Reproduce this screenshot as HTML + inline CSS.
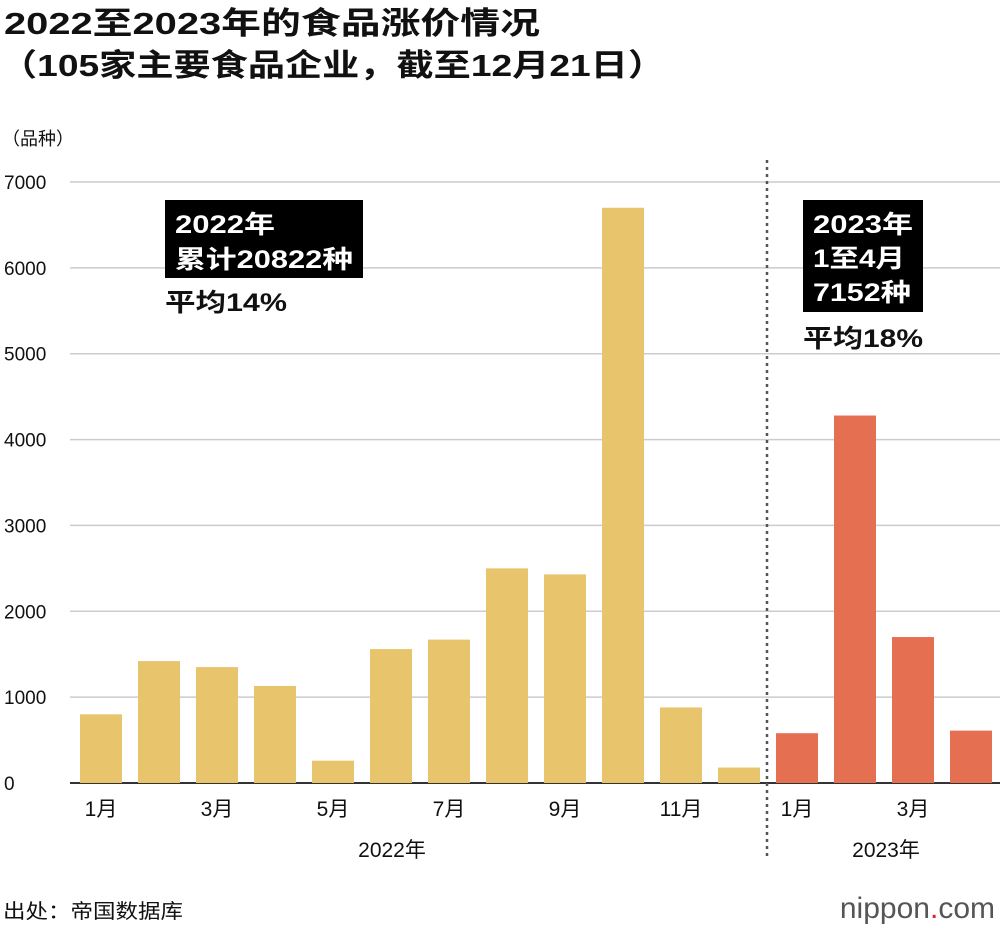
<!DOCTYPE html>
<html><head><meta charset="utf-8"><style>
body{margin:0;background:#fff;width:1000px;height:928px;overflow:hidden;font-family:"Liberation Sans","Noto Sans CJK SC",sans-serif;}
</style></head><body>
<svg width="1000" height="928" xmlns="http://www.w3.org/2000/svg" font-family="Liberation Sans, Noto Sans CJK SC, sans-serif">
<text x="4" y="34" font-size="31" font-weight="bold" fill="#111" textLength="536" lengthAdjust="spacingAndGlyphs">2022至2023年的食品涨价情况</text>
<text x="0" y="76" font-size="31" font-weight="bold" fill="#111" textLength="665" lengthAdjust="spacingAndGlyphs">（105家主要食品企业，截至12月21日）</text>
<text x="2" y="145" font-size="18" fill="#111">（品种）</text>
<g id="grid"></g><g id="bars"></g><g id="xl"></g>
<line x1="767" y1="160" x2="767" y2="860" stroke="#555" stroke-width="2.5" stroke-dasharray="3,4"/>
<rect x="165" y="200" width="198" height="78" fill="#000"/>
<text x="175" y="233" font-size="25" font-weight="bold" fill="#fff" textLength="100" lengthAdjust="spacingAndGlyphs">2022年</text>
<text x="175" y="268" font-size="25" font-weight="bold" fill="#fff" textLength="178" lengthAdjust="spacingAndGlyphs">累计20822种</text>
<text x="165" y="311" font-size="25" font-weight="bold" fill="#111" textLength="122" lengthAdjust="spacingAndGlyphs">平均14%</text>
<rect x="803" y="200" width="120" height="112" fill="#000"/>
<text x="813" y="233" font-size="25" font-weight="bold" fill="#fff" textLength="100" lengthAdjust="spacingAndGlyphs">2023年</text>
<text x="813" y="267" font-size="25" font-weight="bold" fill="#fff" textLength="92" lengthAdjust="spacingAndGlyphs">1至4月</text>
<text x="813" y="301" font-size="25" font-weight="bold" fill="#fff" textLength="98" lengthAdjust="spacingAndGlyphs">7152种</text>
<text x="803" y="347" font-size="25" font-weight="bold" fill="#111" textLength="120" lengthAdjust="spacingAndGlyphs">平均18%</text>
<text x="392" y="857" font-size="21" fill="#111" text-anchor="middle">2022年</text>
<text x="886" y="857" font-size="21" fill="#111" text-anchor="middle">2023年</text>
<text x="3" y="918" font-size="20" fill="#111" textLength="180" lengthAdjust="spacingAndGlyphs">出处：帝国数据库</text>
<text x="995" y="918" font-size="30" fill="#555" text-anchor="end">nippon<tspan fill="#d22">.</tspan>com</text>
</svg>
<script>
const categories=["1月","2月","3月","4月","5月","6月","7月","8月","9月","10月","11月","12月","1月","2月","3月","4月"];
const values2022=[800,1420,1350,1130,260,1560,1670,2500,2430,6700,880,180];
const values2023=[580,4280,1700,610];
const yTicks=[0,1000,2000,3000,4000,5000,6000,7000];
const xLabelIdx=[0,2,4,6,8,10,12,14];
const NS="http://www.w3.org/2000/svg";
const y=v=>783-v*(783-182)/7000;
const x=i=>101+i*58;
const mk=(t,a,p)=>{const e=document.createElementNS(NS,t);for(const k in a)e.setAttribute(k,a[k]);p.appendChild(e);return e;};
const g=document.getElementById('grid'),b=document.getElementById('bars'),xl=document.getElementById('xl');
yTicks.forEach(v=>{
 const l=mk('line',{x1:70,x2:1000,y1:y(v),y2:y(v),stroke:v===0?'#333':'#ccc','stroke-width':v===0?2:1.5},g);
 
 
 const t=mk('text',{x:4,y:y(v)+7,'font-size':19,fill:'#111'},g);t.textContent=v;
 
 
});
const all=values2022.concat(values2023);
all.forEach((v,i)=>{
 const r=mk('rect',{x:x(i)-21,width:42,y:y(v),height:783-y(v),fill:i<12?'#e8c46c':'#e56f51'},b);
 
 
});
xLabelIdx.forEach(i=>{
 const t=mk('text',{x:x(i),y:816,'font-size':21,fill:'#111','text-anchor':'middle'},xl);t.textContent=categories[i];
 
 
});
</script>
</body></html>
